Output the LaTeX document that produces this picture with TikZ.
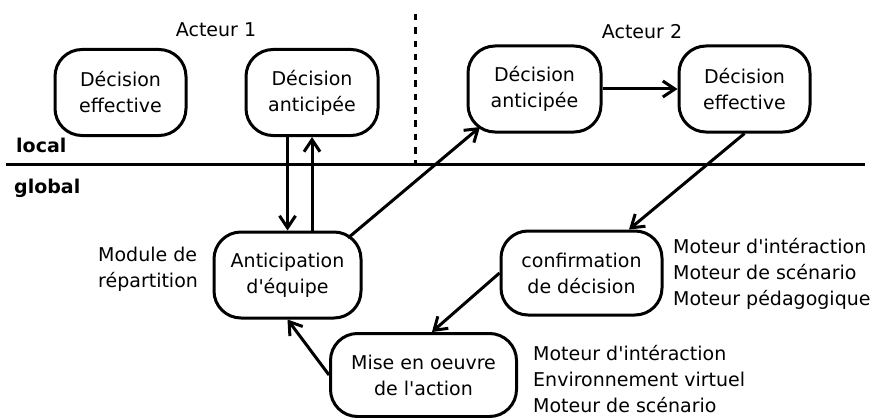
\documentclass[tikz,border=0pt]{standalone}
\usepackage{fontspec}
\setmainfont{DejaVu Sans}[Ligatures=TeXOff]
\usetikzlibrary{arrows.meta,calc}
\begin{document}
\begin{tikzpicture}[x=1pt,y=-1pt,
  every node/.style={font=\fontsize{19}{26}\selectfont},
  stage/.style={draw, line width=3pt, rounded corners=27pt, align=center,
    minimum height=86pt, inner sep=0pt},
  flow/.style={line width=3pt, -{Straight Barb[length=12pt,width=16pt]}},
  link/.style={line width=3pt},
  note/.style={align=left, anchor=west, inner sep=0pt},
  caption/.style={anchor=base, inner sep=0pt},
  level/.style={font=\fontsize{19}{26}\selectfont\bfseries, anchor=base west, inner sep=0pt},
]
\useasboundingbox (0,0) rectangle (874,417);

% local / global separation and the two actors
\draw[link] (6,164) -- (865,164);
\draw[link, dash pattern=on 6.5pt off 6.8pt] (415,14) -- (415,164);
\node[level] (local) at (16,152) {local};
\node[level] (global) at (14,193) {global};
\node[caption] (act1) at (216,36.7) {Acteur 1};
\node[caption] (act2) at (642,39) {Acteur 2};

% decision stages
\node[stage, minimum width=131pt] (a1eff) at (120.5,92.5) {Décision\\effective};
\node[stage, minimum width=132pt] (a1ant) at (312,92.5) {Décision\\anticipée};
\node[stage, minimum width=133pt] (a2ant) at (534.5,89) {Décision\\anticipée};
\node[stage, minimum width=131pt] (a2eff) at (744.5,89) {Décision\\effective};
\node[stage, minimum width=147pt] (eq) at (287.5,275) {Anticipation\\d'équipe};
\node[stage, minimum width=161pt, minimum height=84pt] (conf) at (581.5,273) {confirmation\\de décision};
\node[stage, minimum width=186pt, minimum height=83pt] (mise) at (423.5,375) {Mise en oeuvre\\de l'action};

% modules in charge of each stage
\node[note] (repart) at (98,269) {Module de\\répartition};
\node[note] (confmod) at (673,274) {Moteur d'intéraction\\Moteur de scénario\\Moteur pédagogique};
\node[note] (misemod) at (533,379) {Moteur d'intéraction\\Environnement virtuel\\Moteur de scénario};

% flow between stages
\draw[flow] (a1ant.south -| eq.north) -- (eq.north);
\draw[flow] (eq.north -| a1ant.south) -- (a1ant.south);
\draw[flow] ($(eq.center)+(60.5,-37)$) -- ($(a2ant.center)+(-54.5,38)$);
\draw[flow] (a2ant.east) -- (a2eff.west);
\draw[flow] (a2eff.south) -- ($(conf.north)+(47.5,0)$);
\draw[flow] (conf.west) -- ($(mise.north)+(8.5,0)$);
\draw[flow] (mise.west) -- (eq.south);
\end{tikzpicture}
\end{document}
